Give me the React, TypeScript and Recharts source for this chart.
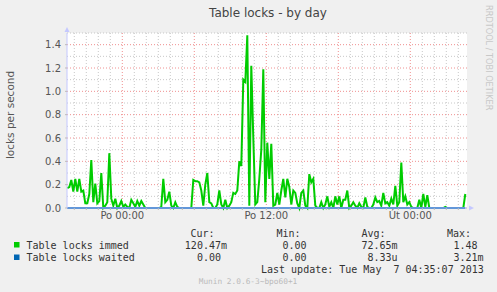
import React from "react";
import { LineChart, Line, XAxis, YAxis, CartesianGrid } from "recharts";

// minutes relative to "Po 00:00"; one sample every 10 minutes
const START_MIN = -275;
const STEP_MIN = 10;

// Table locks immed (locks per second)
const immed = [
  0.17, 0.18, 0.24, 0.14, 0.25, 0.14, 0.25, 0.14, 0.15, 0.04,
  0.04, 0.12, 0.41, 0.05, 0.21, 0.04, 0.06, 0.3, 0.0, 0.02,
  0.05, 0.47, 0.08, 0.02, 0.08, 0.0, 0.02, 0.06, 0.01, 0.03,
  0.01, 0.0, 0.07, 0.04, 0.01, 0.06, 0.02, 0.06, 0.03, 0.0,
  0.0, 0.0, 0.0, 0.0, 0.0, 0.0, 0.0, 0.01, 0.25, 0.05,
  0.07, 0.14, 0.02, 0.0, 0.05, 0.01, 0.0, 0.0, 0.0, 0.0,
  0.0, 0.0, 0.0, 0.24, 0.23, 0.23, 0.22, 0.15, 0.02, 0.2,
  0.3, 0.05, 0.04, 0.0, 0.0, 0.03, 0.15, 0.03, 0.0, 0.07,
  0.0, 0.02, 0.05, 0.13, 0.12, 0.15, 0.4, 0.36, 1.1, 1.08,
  1.48, 0.02, 1.22, 0.6, 0.03, 0.05, 0.25, 0.5, 1.19, 0.05,
  0.56, 0.25, 0.55, 0.02, 0.03, 0.13, 0.03, 0.15, 0.25, 0.09,
  0.25, 0.18, 0.03, 0.15, 0.13, 0.04, 0.0, 0.13, 0.15, 0.02,
  0.0, 0.29, 0.22, 0.25, 0.02, 0.0, 0.0, 0.05, 0.0, 0.03,
  0.1, 0.01, 0.05, 0.0, 0.1, 0.03, 0.1, 0.0, 0.07, 0.07,
  0.15, 0.0, 0.02, 0.05, 0.02, 0.0, 0.04, 0.01, 0.0, 0.09,
  0.01, 0.0, 0.0, 0.03, 0.09, 0.05, 0.06, 0.02, 0.13, 0.04,
  0.05, 0.02, 0.08, 0.03, 0.19, 0.02, 0.05, 0.39, 0.05, 0.1,
  0.03, 0.05, 0.01, 0.0, 0.0, 0.0, 0.07, 0.0, 0.12, 0.01,
  0.11, 0.0, 0.0, 0.0, 0.0, 0.0, 0.0, 0.0, 0.0, 0.01,
  0.0, 0.0, 0.0, 0.0, 0.0, 0.0, 0.0, 0.0, 0.0, 0.12,
];

// Table locks waited (practically zero)
const waited = [
  0, 0, 0, 0, 0, 0, 0, 0, 0, 0,
  0, 0, 0, 0, 0, 0, 0, 0, 0, 0,
  0, 0, 0, 0, 0, 0, 0, 0, 0, 0,
  0, 0, 0, 0, 0, 0, 0, 0, 0, 0,
  0, 0, 0, 0, 0, 0, 0, 0, 0, 0,
  0, 0, 0, 0, 0, 0, 0, 0, 0, 0,
  0, 0, 0, 0, 0, 0, 0, 0, 0, 0,
  0, 0, 0, 0, 0, 0, 0, 0, 0, 0,
  0, 0, 0, 0, 0, 0, 0, 0, 0, 0,
  0, 0, 0, 0, 0, 0, 0, 0, 0, 0,
  0, 0, 0, 0, 0, 0, 0, 0, 0, 0,
  0, 0, 0, 0, 0, 0, 0, 0, 0, 0,
  0, 0, 0, 0, 0, 0, 0, 0, 0, 0,
  0, 0, 0, 0, 0, 0, 0, 0, 0, 0,
  0, 0, 0, 0, 0, 0, 0, 0, 0, 0,
  0, 0, 0, 0, 0, 0, 0, 0, 0, 0,
  0, 0, 0, 0, 0, 0, 0, 0, 0, 0,
  0, 0, 0, 0, 0, 0, 0, 0, 0, 0,
  0, 0, 0, 0, 0, 0, 0, 0, 0, 0,
  0, 0, 0, 0, 0, 0, 0, 0, 0, 0,
];

const yTicks = [0, 0.2, 0.4, 0.6, 0.8, 1.0, 1.2, 1.4];
const yMinor = [0.1, 0.3, 0.5, 0.7, 0.9, 1.1, 1.3, 1.5];
const xMajorTicks = [0, 720, 1440];
const xTickLabels = ["Po 00:00", "Po 12:00", "Út 00:00"];
const xRedGrid = [0, 360, 720, 1080, 1440];
const xHours = Array.from({ length: 33 }, (_, i) => -240 + i * 60);
const xGreyGrid = xHours.filter((h) => h % 360 !== 0);

const legendHeader = ["Cur:", "Min:", "Avg:", "Max:"];
const immedStats = ["120.47m", "0.00", "72.65m", "1.48"];
const waitedStats = ["0.00", "0.00", "8.33u", "3.21m"];

const data = immed.map((v, i) => ({
  t: START_MIN + i * STEP_MIN,
  immed: v,
  waited: waited[i],
}));

const GREEN = "#00cc00";
const BLUE = "#0066b3";
const AXIS = "#c4c8ff";
const MONO = "'DejaVu Sans Mono', monospace";
const SANS = "'DejaVu Sans', sans-serif";

const tickStyle = { fontSize: 10, fill: "#555", fontFamily: SANS };

export default function App() {
  return (
    <div
      style={{
        position: "absolute",
        left: 0,
        top: 0,
        width: 497,
        height: 292,
        background: "#f0f0f0",
        fontFamily: SANS,
      }}
    >
      <LineChart
        width={497}
        height={292}
        data={data}
        margin={{ top: 33, right: 30, bottom: 64, left: 17 }}
      >
        <CartesianGrid
          fill="#ffffff"
          stroke="#c8c8c8"
          strokeDasharray="1 2"
          horizontalValues={yMinor}
          verticalValues={xGreyGrid}
        />
        <CartesianGrid
          stroke="#f09090"
          strokeDasharray="1 2"
          horizontalValues={yTicks}
          verticalValues={xRedGrid}
        />
        <XAxis
          dataKey="t"
          type="number"
          domain={[-276.5, 1723.5]}
          ticks={xHours}
          interval={0}
          height={20}
          tickSize={2}
          tickMargin={2}
          axisLine={{ stroke: AXIS }}
          tickLine={{ stroke: "#bbb" }}
          tick={tickStyle}
          tickFormatter={(v: number) => {
            const k = xMajorTicks.indexOf(v);
            return k >= 0 ? xTickLabels[k] : "";
          }}
        />
        <YAxis
          type="number"
          domain={[0, 1.5]}
          ticks={yTicks}
          interval={0}
          width={50}
          tickSize={2}
          tickMargin={4}
          axisLine={{ stroke: AXIS }}
          tickLine={{ stroke: "#bbb" }}
          tick={tickStyle}
          tickFormatter={(v: number) => v.toFixed(1)}
        />
        <Line
          type="linear"
          dataKey="immed"
          stroke={GREEN}
          strokeWidth={2}
          dot={false}
          isAnimationActive={false}
        />
        <Line
          type="linear"
          dataKey="waited"
          stroke={BLUE}
          strokeWidth={2}
          dot={false}
          isAnimationActive={false}
        />
      </LineChart>

      <svg
        width={497}
        height={292}
        style={{ position: "absolute", left: 0, top: 0, pointerEvents: "none" }}
      >
        <text x={268} y={17} textAnchor="middle" fontSize={12} fill="#444" fontFamily={SANS}>
          Table locks - by day
        </text>
        <text
          transform="translate(14,115) rotate(-90)"
          textAnchor="middle"
          fontSize={10.5}
          fill="#555"
          fontFamily={SANS}
        >
          locks per second
        </text>
        <text
          transform="translate(486,5) rotate(90)"
          textAnchor="start"
          fontSize={8.2}
          fill="#c8c8c8"
          fontFamily={SANS}
        >
          RRDTOOL / TOBI OETIKER
        </text>
        <polygon points="67,27 64.5,32 69.5,32" fill={AXIS} />
        <polygon points="474,208 469,205.5 469,210.5" fill={AXIS} />

        <text x={190.5} y={237} fontSize={10} fill="#333" fontFamily={MONO}>{legendHeader[0]}</text>
        <text x={276.5} y={237} fontSize={10} fill="#333" fontFamily={MONO}>{legendHeader[1]}</text>
        <text x={361.5} y={237} fontSize={10} fill="#333" fontFamily={MONO}>{legendHeader[2]}</text>
        <text x={447} y={237} fontSize={10} fill="#333" fontFamily={MONO}>{legendHeader[3]}</text>

        <rect x={14} y={242} width={5.5} height={5.5} fill={GREEN} />
        <text x={26.5} y={249} fontSize={10} fill="#333" fontFamily={MONO}>Table locks immed</text>
        <text x={227} y={249} textAnchor="end" fontSize={10} fill="#333" fontFamily={MONO}>{immedStats[0]}</text>
        <text x={306.5} y={249} textAnchor="end" fontSize={10} fill="#333" fontFamily={MONO}>{immedStats[1]}</text>
        <text x={397.5} y={249} textAnchor="end" fontSize={10} fill="#333" fontFamily={MONO}>{immedStats[2]}</text>
        <text x={477.5} y={249} textAnchor="end" fontSize={10} fill="#333" fontFamily={MONO}>{immedStats[3]}</text>

        <rect x={14} y={254.5} width={5.5} height={5.5} fill={BLUE} />
        <text x={26.5} y={261} fontSize={10} fill="#333" fontFamily={MONO}>Table locks waited</text>
        <text x={221} y={261} textAnchor="end" fontSize={10} fill="#333" fontFamily={MONO}>{waitedStats[0]}</text>
        <text x={306.5} y={261} textAnchor="end" fontSize={10} fill="#333" fontFamily={MONO}>{waitedStats[1]}</text>
        <text x={397.5} y={261} textAnchor="end" fontSize={10} fill="#333" fontFamily={MONO}>{waitedStats[2]}</text>
        <text x={483.5} y={261} textAnchor="end" fontSize={10} fill="#333" fontFamily={MONO}>{waitedStats[3]}</text>

        <text x={261} y={273} fontSize={10} fill="#333" fontFamily={MONO} style={{ whiteSpace: "pre" }}>
          Last update: Tue May  7 04:35:07 2013
        </text>
        <text x={248} y={284} textAnchor="middle" fontSize={7.8} fill="#bbb" fontFamily={MONO}>
          Munin 2.0.6-3~bpo60+1
        </text>
      </svg>
    </div>
  );
}
